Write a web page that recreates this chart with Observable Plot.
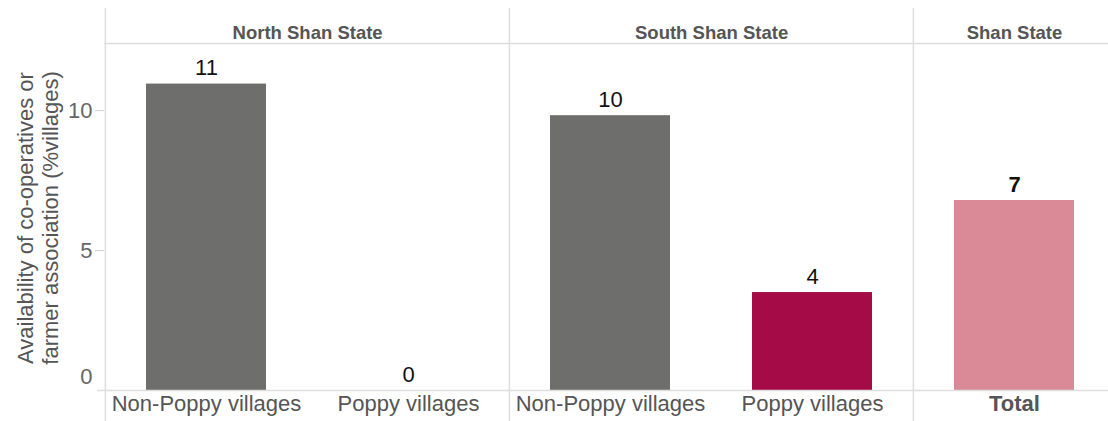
<!DOCTYPE html>
<html><head><meta charset="utf-8">
<script src="https://cdn.jsdelivr.net/npm/d3@7"></script>
<script src="https://cdn.jsdelivr.net/npm/@observablehq/plot@0.6"></script>
<style>body{margin:0;background:#fff}</style>
</head><body><div id="chart"></div>
<script>
const groups = ["North Shan State", "North Shan State", "South Shan State", "South Shan State", "Shan State"];
const categories = ["Non-Poppy villages", "Poppy villages", "Non-Poppy villages", "Poppy villages", "Total"];
const values = [10.95, 0, 9.82, 3.5, 6.79];
const headers = ["North Shan State", "South Shan State", "Shan State"];
const yTicks = [5, 10];
const yTitle = "Availability of co-operatives or\nfarmer association (%villages)";

const rows = categories.map((c, i) => ({
  key: groups[i] + "|" + c, group: groups[i], category: c,
  value: values[i], label: String(Math.round(values[i]))
}));
const keys = rows.map(d => d.key);
const headerRows = headers.map(h => {
  const rs = rows.filter(r => r.group === h);
  return {group: h, key: rs[0].key, n: rs.length};
});

const W = 1108, H = 421, mL = 104, mT = 43, mB = 31;
const xRange = [104, 1115];
const band = (xRange[1] - xRange[0]) / keys.length;
const yMax = 12.4;
const lineC = "#dedede";
const font = "'Liberation Sans', Arial, sans-serif";

const chart = Plot.plot({
  width: W, height: H,
  marginLeft: mL, marginRight: 0, marginTop: mT, marginBottom: mB,
  style: {fontFamily: font, background: "#fff"},
  x: {domain: keys, range: xRange, padding: 0, axis: null},
  y: {domain: [0, yMax], axis: null},
  color: {domain: ["Non-Poppy villages", "Poppy villages", "Total"], range: ["#6e6e6c", "#a50b47", "#d98a96"]},
  marks: [
    Plot.ruleX(headerRows, {x: "key", dx: -band / 2, stroke: lineC, strokeWidth: 1.5, insetTop: -35, insetBottom: -31}),
    Plot.ruleY([yMax], {stroke: lineC, strokeWidth: 1.5}),
    Plot.barY(rows, {x: "key", y: "value", fill: "category", insetLeft: 41, insetRight: 41}),
    Plot.ruleY([0], {stroke: lineC, strokeWidth: 1.5, insetLeft: -7}),
    Plot.axisY({ticks: yTicks, tickSize: 9, tickPadding: 3, fontSize: 22, color: "#666", stroke: "#cfcfcf", label: null}),
    Plot.text([0], {y: d => d, text: d => String(d), frameAnchor: "left", textAnchor: "end", dx: -12, dy: -14, fontSize: 22, fill: "#666"}),
    Plot.text([yTitle], {text: d => d, frameAnchor: "left", textAnchor: "middle", dx: -67, dy: 1, rotate: -90, fontSize: 22, lineHeight: 1.14, fill: "#555"}),
    Plot.text(headerRows.filter(d => d.n === 2), {x: "key", text: "group", frameAnchor: "top", dy: -18, dx: band / 2, fontSize: 18.5, fontWeight: "bold", fill: "#555"}),
    Plot.text(headerRows.filter(d => d.n === 1), {x: "key", text: "group", frameAnchor: "top", dy: -18, fontSize: 18.5, fontWeight: "bold", fill: "#555"}),
    Plot.text(rows.filter(d => d.category !== "Total"), {x: "key", y: "value", text: "label", dy: -16, fontSize: 22, fill: "#111"}),
    Plot.text(rows.filter(d => d.category === "Total"), {x: "key", y: "value", text: "label", dy: -16, fontSize: 22, fontWeight: "bold", fill: "#111"}),
    Plot.text(rows.filter(d => d.category !== "Total"), {x: "key", text: "category", frameAnchor: "bottom", dy: 20, fontSize: 22, fill: "#555"}),
    Plot.text(rows.filter(d => d.category === "Total"), {x: "key", text: "category", frameAnchor: "bottom", dy: 20, fontSize: 22, fontWeight: "bold", fill: "#555"})
  ]
});
document.getElementById("chart").appendChild(chart);
</script>
</body></html>
